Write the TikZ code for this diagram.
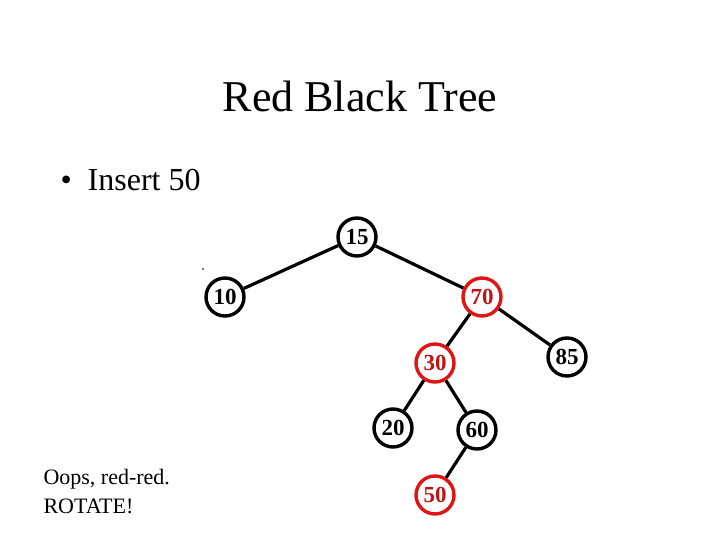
\documentclass[tikz,border=0pt]{standalone}
\usepackage{fontspec}
\setmainfont{Liberation Serif}
\definecolor{rbred}{RGB}{225,20,20}
\definecolor{rbtext}{RGB}{190,20,20}
\begin{document}
\begin{tikzpicture}[x=1pt,y=-1pt,
  blk/.style={circle,draw=black,line width=3.4pt,minimum size=38pt,inner sep=0pt,font=\fontsize{23}{23}\selectfont\bfseries,fill=white},
  rd/.style={blk,draw=rbred,text=rbtext},
  edge/.style={line width=3.2pt}]
\useasboundingbox (0,0) rectangle (720,540);
\node[font=\fontsize{44}{44}\selectfont] (title) at (360,96) {Red Black Tree};
\node[anchor=base west,font=\fontsize{32}{32}\selectfont] (bullet) at (57,191) {\textbullet\ \ Insert 50};
\node[blk] (n15) at (357,237) {15};
\node[blk] (n10) at (225,297) {10};
\node[rd]  (n70) at (482,297) {70};
\node[rd]  (n30) at (435,363) {30};
\node[blk] (n85) at (567,357) {85};
\node[blk] (n20) at (393,428) {20};
\node[blk] (n60) at (477,430) {60};
\node[rd]  (n50) at (435,495) {50};
\draw[edge] (n15) -- (n10);
\draw[edge] (n15) -- (n70);
\draw[edge] (n70) -- (n30);
\draw[edge] (n70) -- (n85);
\draw[edge] (n30) -- (n20);
\draw[edge] (n30) -- (n60);
\draw[edge] (n60) -- (n50);
\fill (203,269) circle (0.8pt);
\node[anchor=base west,align=left,font=\fontsize{22}{29}\selectfont] (note) at (40,513) {Oops, red-red.\\ROTATE!};
\end{tikzpicture}
\end{document}
